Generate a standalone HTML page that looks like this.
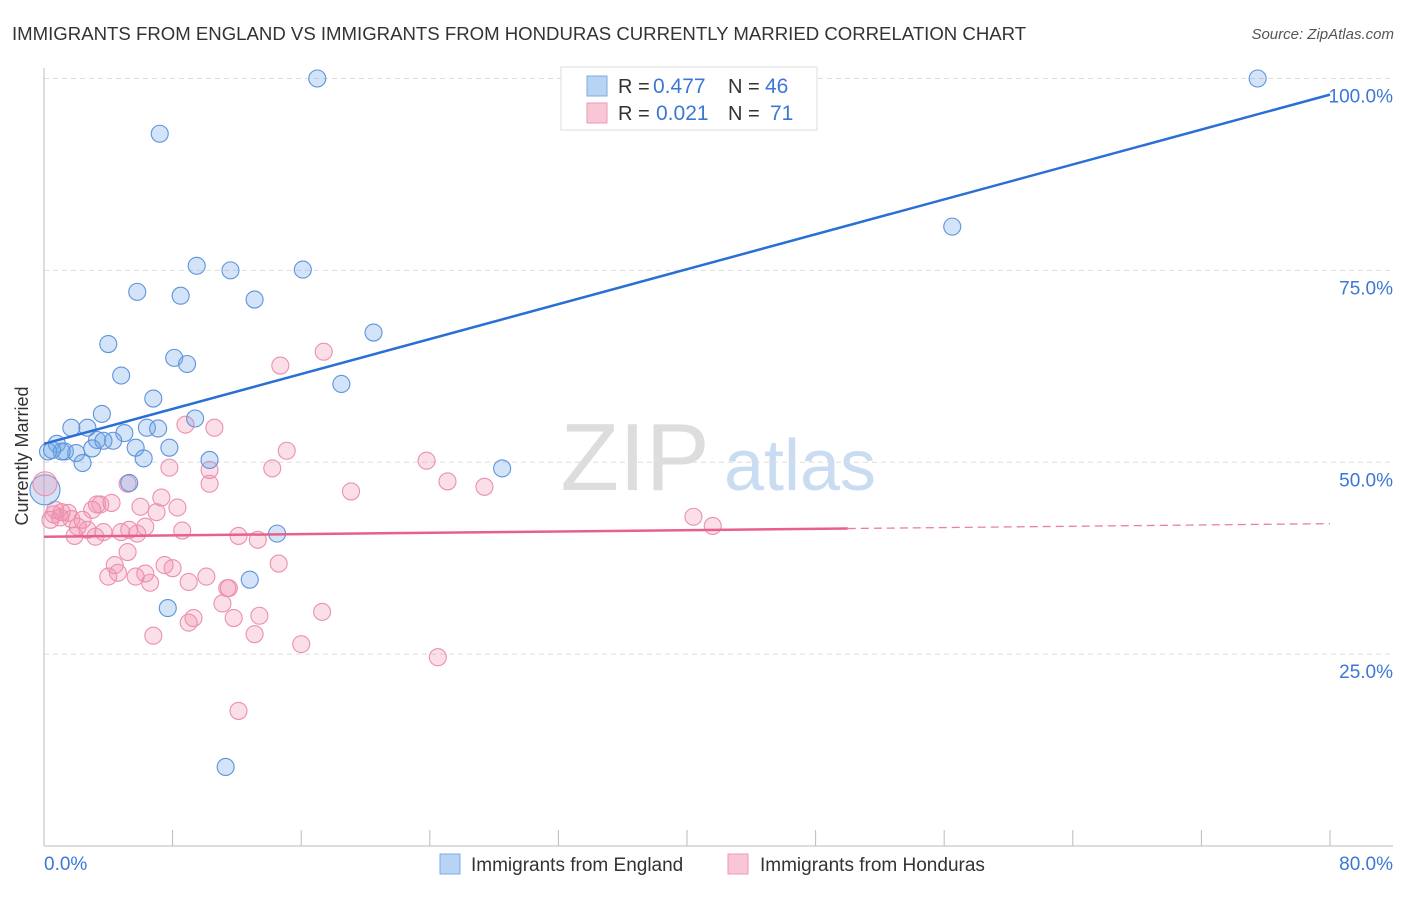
<!DOCTYPE html>
<html><head><meta charset="utf-8"><style>
body{margin:0;background:#fff;font-family:"Liberation Sans",sans-serif;}
svg text{font-family:"Liberation Sans",sans-serif;}
</style></head><body>
<svg id="chart" width="1406" height="892" viewBox="0 0 1406 892" xmlns="http://www.w3.org/2000/svg">
<text x="12" y="40" font-size="18.6" fill="#333">IMMIGRANTS FROM ENGLAND VS IMMIGRANTS FROM HONDURAS CURRENTLY MARRIED CORRELATION CHART</text>
<text x="1394" y="39" font-size="15" fill="#555" font-style="italic" text-anchor="end">Source: ZipAtlas.com</text>
<text x="28" y="456" font-size="18" fill="#333" text-anchor="middle" transform="rotate(-90 28 456)">Currently Married</text>
<g>
<text x="635" y="490" font-size="96" fill="#ddd" font-family="Liberation Serif,serif" text-anchor="middle">ZIP</text>
<text x="800" y="490" font-size="72" fill="#c9dcf1" text-anchor="middle">atlas</text>
</g>
<g id="grid"></g>
<g id="axes"></g>
<g id="pts"></g>
<g id="lines"></g>
<g>
<rect x="561" y="67" width="256" height="63" fill="#fff" stroke="#ddd"/>
<rect x="587" y="76" width="20" height="20" fill="#b8d4f4" stroke="#7fa9e0"/>
<rect x="587" y="103" width="20" height="20" fill="#f9c6d6" stroke="#eb9ab5"/>
<text x="618" y="93" font-size="20" fill="#333">R =</text>
<text x="653" y="93" font-size="21" fill="#3b78d6">0.477</text>
<text x="728" y="93" font-size="20" fill="#333">N =</text>
<text x="765" y="93" font-size="21" fill="#3b78d6">46</text>
<text x="618" y="120" font-size="20" fill="#333">R =</text>
<text x="656" y="120" font-size="21" fill="#3b78d6">0.021</text>
<text x="728" y="120" font-size="20" fill="#333">N =</text>
<text x="770" y="120" font-size="21" fill="#3b78d6">71</text>
</g>
<g>
<rect x="440" y="854" width="20" height="20" fill="#b8d4f4" stroke="#7fa9e0"/>
<text x="471" y="871" font-size="19" fill="#333">Immigrants from England</text>
<rect x="728" y="854" width="20" height="20" fill="#f9c6d6" stroke="#eb9ab5"/>
<text x="760" y="871" font-size="19" fill="#333">Immigrants from Honduras</text>
</g>
</svg>
<script>
const englandX=[17.0,75.5,7.2,56.5,9.5,11.6,16.1,5.8,8.5,13.1,20.5,4.0,8.1,8.9,4.8,18.5,6.8,3.6,9.4,1.7,2.7,6.4,7.1,5.0,3.3,4.3,0.8,7.8,5.7,0.25,1.3,2.0,3.0,6.2,2.4,10.3,28.5,5.3,14.5,12.8,7.7,11.3,1.1,3.7,0.5];
const englandY=[100,100,92.8,80.7,75.6,75.0,75.1,72.2,71.7,71.2,66.9,65.4,63.6,62.8,61.3,60.2,58.3,56.3,55.7,54.5,54.5,54.5,54.4,53.8,52.9,52.8,52.4,51.9,51.9,51.4,51.4,51.2,51.8,50.5,49.9,50.3,49.2,47.3,40.7,34.7,31.0,10.3,51.4,52.8,51.6];
const hondurasX=[14.7,17.4,8.8,10.6,15.1,23.8,7.8,10.3,14.2,25.1,27.4,19.1,5.2,10.3,7.3,3.3,4.2,6.0,8.3,3.0,7.0,0.7,1.5,2.4,1.0,2.1,0.4,2.7,5.3,4.8,6.3,8.6,3.7,1.9,5.8,12.1,13.3,40.4,41.6,5.2,4.4,7.5,8.0,14.6,4.6,6.3,4.0,5.7,10.1,9.0,6.6,11.4,11.1,13.4,17.3,11.8,9.3,9.0,6.8,13.1,16.0,24.5,12.1,1.1,3.2,1.7,11.5,3.5,0.6];
const hondurasY=[62.6,64.4,54.9,54.5,51.5,50.2,49.3,49.0,49.2,47.5,46.8,46.2,47.2,47.2,45.4,44.5,44.7,44.2,44.1,43.8,43.5,43.8,43.4,42.5,42.8,41.6,42.5,41.2,41.2,40.9,41.6,41.1,40.9,40.4,40.7,40.4,39.9,42.9,41.7,38.3,36.6,36.6,36.2,36.8,35.6,35.5,35.1,35.1,35.1,34.4,34.3,33.6,31.6,30.0,30.5,29.7,29.7,29.1,27.4,27.6,26.3,24.6,17.6,43.5,40.3,42.6,33.6,44.5,43.2];
const bigPoints=[[0.06,46.4,'e'],[0.06,47.2,'h']];
const yTicks=[25,50,75,100];
const yTickLabels=["25.0%","50.0%","75.0%","100.0%"];
const xTicks=[0,8,16,24,32,40,48,56,64,72,80];
const englandTrend=[52.4,97.9];
const hondurasTrend=[40.3,42.0];
const hondurasSolidEnd=50;

const NS="http://www.w3.org/2000/svg";
const X=v=>44+v/80*1286;
const Y=v=>846-v*7.675;
function mk(tag,attrs,parent){const e=document.createElementNS(NS,tag);for(const k in attrs)e.setAttribute(k,attrs[k]);parent.appendChild(e);return e;}
const grid=document.getElementById('grid'),axes=document.getElementById('axes'),pts=document.getElementById('pts'),lines=document.getElementById('lines');
yTicks.forEach((t,i)=>{
  const l=mk('line',{x1:44,x2:1393,y1:Y(t),y2:Y(t),stroke:'#ddd','stroke-dasharray':'5,4'},grid);
  
  
  const tx=mk('text',{x:1393,y:Y(t)+24,'font-size':19,fill:'#3b78d6','text-anchor':'end'},grid);
  tx.textContent=yTickLabels[i];
  
  
});
let a=mk('line',{x1:44,x2:44,y1:68,y2:846,stroke:'#bbb'},axes);


a=mk('line',{x1:44,x2:1393,y1:846,y2:846,stroke:'#bbb'},axes);


xTicks.forEach(t=>{
  const l=mk('line',{x1:X(t),x2:X(t),y1:830,y2:846,stroke:'#bbb'},axes);
  
  
});
let t=mk('text',{x:44,y:870,'font-size':19,fill:'#3b78d6'},axes);t.textContent='0.0%';


t=mk('text',{x:1393,y:870,'font-size':19,fill:'#3b78d6','text-anchor':'end'},axes);t.textContent='80.0%';


function dot(x,y,r,c){
  const f=c==='e'?'rgba(110,165,232,0.3)':'rgba(242,140,172,0.28)';
  const s=c==='e'?'#5e93dc':'#eb90ae';
  const e=mk('circle',{cx:X(x),cy:Y(y),r:r,fill:f,stroke:s,'stroke-width':1.1},pts);
  return e;
}
hondurasX.forEach((x,i)=>{const e=dot(x,hondurasY[i],8.5,'h');
  
  });
englandX.forEach((x,i)=>{const e=dot(x,englandY[i],8.5,'e');
  
  });
bigPoints.forEach(p=>{const e=dot(p[0],p[1],p[2]==='e'?15:12,p[2]);
  
  });
let L=mk('line',{x1:X(0),y1:Y(englandTrend[0]),x2:X(80),y2:Y(englandTrend[1]),stroke:'#2a6fd6','stroke-width':2.5},lines);


const hy=x=>hondurasTrend[0]+(hondurasTrend[1]-hondurasTrend[0])*x/80;
L=mk('line',{x1:X(0),y1:Y(hy(0)),x2:X(hondurasSolidEnd),y2:Y(hy(hondurasSolidEnd)),stroke:'#e8608d','stroke-width':2.5},lines);


L=mk('line',{x1:X(hondurasSolidEnd),y1:Y(hy(hondurasSolidEnd)),x2:X(80),y2:Y(hy(80)),stroke:'#e8819f','stroke-width':1.3,'stroke-dasharray':'8,5'},lines);


</script>
</body></html>
